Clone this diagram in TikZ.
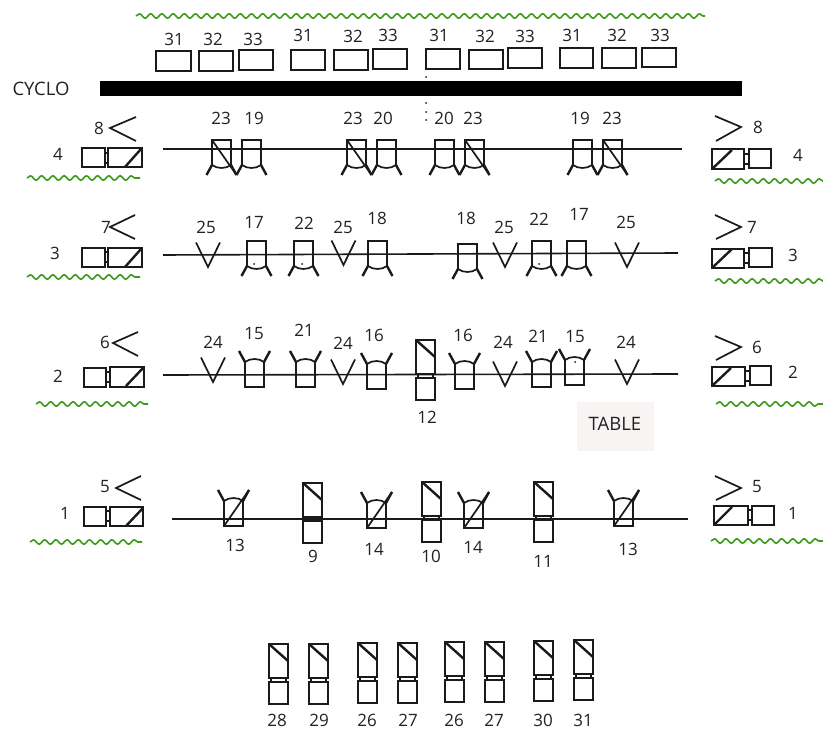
\documentclass[tikz,border=0pt]{standalone}
\usepackage{fontspec}
\setmainfont{Open Sans}
\usetikzlibrary{decorations.pathmorphing}
\definecolor{ink}{HTML}{1A1A1A}
\definecolor{txtc}{HTML}{222222}
\definecolor{wavec}{HTML}{3C9A1C}
\definecolor{tablebg}{HTML}{F8F4F4}
\newcounter{labn}
\tikzset{
  txt/.style={text=txtc,font=\fontsize{17}{19}\selectfont,inner sep=0pt,outer sep=0pt},
  capstxt/.style={text=txtc,font=\fontsize{18.5}{20}\selectfont,inner sep=0pt,outer sep=0pt},
  sym/.style={draw=ink,line width=1.7pt,line join=miter},
  rail/.style={draw=ink,line width=1.6pt},
  legs/.style={draw=ink,line width=2.4pt},
  wave/.style={draw=wavec,line width=1.6pt,decorate,decoration={snake,segment length=11.2pt,amplitude=2.2pt}},
}
\newcommand{\lab}[3]{\stepcounter{labn}\node[txt] (lab\arabic{labn}) at (#1,#2) {#3};}
\newcommand{\capslab}[3]{\stepcounter{labn}\node[capstxt] (lab\arabic{labn}) at (#1,#2) {#3};}
% cup opening down; x, top y
\newcommand{\cupdown}[2]{%
  \draw[sym] (#1,#2+25) -- (#1,#2) -- (#1+19,#2) -- (#1+19,#2+25);
  \draw[sym] (#1,#2+25) .. controls (#1+5,#2+29) and (#1+14,#2+29) .. (#1+19,#2+25);
  \draw[legs] (#1,#2+25) -- (#1-5.5,#2+35);
  \draw[legs] (#1+19,#2+25) -- (#1+24.5,#2+35);
}
\newcommand{\downslash}[2]{\cupdown{#1}{#2}\draw[sym] (#1,#2) -- (#1+24.5,#2+35);}
% cup opening up; x, bottom y
\newcommand{\cupup}[2]{%
  \draw[sym] (#1,#2-25) -- (#1,#2) -- (#1+19,#2) -- (#1+19,#2-25);
  \draw[sym] (#1,#2-25) .. controls (#1+5,#2-29) and (#1+14,#2-29) .. (#1+19,#2-25);
  \draw[legs] (#1,#2-25) -- (#1-6,#2-36);
  \draw[legs] (#1+19,#2-25) -- (#1+25,#2-36);
}
\newcommand{\upslash}[2]{\cupup{#1}{#2}\draw[sym] (#1,#2) -- (#1+25,#2-36);}
\newcommand{\vmark}[2]{\draw[sym] (#1-12,#2-24.5) -- (#1,#2) -- (#1+12,#2-24.5);}
\newcommand{\dumb}[2]{%
  \draw[sym] (#1,#2) rectangle (#1+19,#2+34);
  \draw[sym] (#1+2,#2+34) -- (#1+2,#2+38) (#1+17,#2+34) -- (#1+17,#2+38);
  \draw[sym] (#1,#2+38) rectangle (#1+19,#2+60);
  \draw[legs] (#1,#2) -- (#1+19,#2+17);
}
\newcommand{\tbox}[4]{\draw[sym] (#1,#2) rectangle (#3,#4);}
\newcommand{\neck}[3]{\draw[sym,line width=1.2pt] (#1,#3-5) -- (#2,#3-5) (#1,#3+5) -- (#2,#3+5);}
\newcommand{\dotm}[2]{\fill[ink] (#1,#2) circle (1pt);}
\begin{document}
\begin{tikzpicture}[x=1pt,y=-1pt]
\useasboundingbox (0,0) rectangle (823,730);
\fill[white] (0,0) rectangle (823,730);
% waves
\draw[wave] (136,16) -- (705,16);
\draw[wave] (27,178) -- (140,178);
\draw[wave] (27,277) -- (140,277);
\draw[wave] (36,404) -- (148,404);
\draw[wave] (30,542) -- (142,542);
\draw[wave] (715,181) -- (823,181);
\draw[wave] (715,281) -- (823,281);
\draw[wave] (716,404) -- (823,404);
\draw[wave] (711,541) -- (823,541);
% top boxes
\tbox{156}{51}{191}{71}\tbox{199}{51}{233}{71}\tbox{239}{50}{273}{70}
\tbox{291}{50}{325}{70}\tbox{334}{50}{368}{70}\tbox{373}{49}{407}{69}
\tbox{426}{49}{460}{69}\tbox{469}{50}{503}{69}\tbox{508}{48}{542}{68}
\tbox{560}{48}{593}{68}\tbox{602}{48}{636}{68}\tbox{642}{48}{676}{67}
\lab{174}{39}{31}\lab{213}{39}{32}\lab{253}{39}{33}
\lab{303}{35}{31}\lab{353}{36}{32}\lab{388}{35}{33}
\lab{439}{35}{31}\lab{485}{36}{32}\lab{525}{36}{33}
\lab{572}{35}{31}\lab{617}{35}{32}\lab{660}{35}{33}
% bar
\fill[black] (100,81) rectangle (742,96);
\capslab{41}{89}{CYCLO}
\dotm{426}{77}\dotm{426}{103}\dotm{426}{112}\dotm{426}{120}
% rails
\draw[rail] (163,149) -- (682,149);
\draw[rail] (163,255) -- (678,253);
\draw[rail] (163,375) -- (678,374);
\draw[rail] (172,519) -- (688,519);
% row 4 left
\tbox{82}{148}{105}{167}\tbox{108}{148}{142}{167}\draw[legs] (125,167) -- (141,149);
\neck{105}{108}{158}
\lab{58}{154}{4}\lab{99}{128}{8}
\draw[sym] (136,117) -- (110,128) -- (136,141);
% row 4 right
\tbox{712}{149}{744}{169}\tbox{749}{149}{771}{168}\draw[legs] (712,169) -- (732,150);
\neck{744}{749}{159}
\lab{798}{155}{4}\lab{758}{127}{8}
\draw[sym] (715,116) -- (741,127) -- (716,141);
% row 4 symbols
\downslash{212}{140}
\cupdown{242}{140}
\downslash{347}{140}
\cupdown{377}{140}
\cupdown{435}{140}
\downslash{465}{140}
\cupdown{573}{140}
\downslash{603}{140}
\lab{221}{118}{23}\lab{254}{118}{19}\lab{353}{118}{23}\lab{383}{118}{20}
\lab{444}{118}{20}\lab{473}{118}{23}\lab{580}{118}{19}\lab{612}{118}{23}
% row 3 left
\tbox{82}{248}{105}{267}\tbox{108}{248}{142}{267}\draw[legs] (125,267) -- (141,249);
\neck{105}{108}{257}
\lab{55}{253}{3}\lab{106}{227}{7}
\draw[sym] (135,215) -- (110,227) -- (135,239);
% row 3 right
\tbox{712}{249}{744}{268}\tbox{749}{248}{772}{267}\draw[legs] (712,268) -- (732,249);
\neck{744}{749}{258}
\lab{793}{255}{3}\lab{752}{227}{7}
\draw[sym] (715,215) -- (741,227) -- (716,239);
% row 3 symbols
\vmark{208}{267}
\cupdown{247}{241}\dotm{254}{264}
\cupdown{294}{241}\dotm{302}{264}
\vmark{343.5}{265}
\cupdown{368}{241}
\cupdown{458}{244}
\vmark{505}{267}
\cupdown{532}{241}\dotm{539}{264}
\cupdown{567}{241}
\vmark{627}{267}
\lab{206}{227}{25}\lab{254}{222}{17}\lab{304}{223}{22}\lab{343}{227}{25}\lab{377}{218}{18}
\lab{466}{218}{18}\lab{504}{227}{25}\lab{539}{219}{22}\lab{579}{214}{17}\lab{626}{222}{25}
% row 2 left
\tbox{84}{368}{106}{387}\tbox{110}{367}{144}{387}\draw[legs] (126,386) -- (143,368);
\neck{106}{110}{377}
\lab{58}{376}{2}\lab{105}{342}{6}
\draw[sym] (138,332) -- (113,343) -- (138,356);
% row 2 right
\tbox{712}{367}{745}{386}\tbox{750}{366}{771}{385}\draw[legs] (712,386) -- (731,368);
\neck{745}{750}{376}
\lab{793}{372}{2}\lab{757}{347}{6}
\draw[sym] (715,336) -- (741,347) -- (716,360);
% row 2 symbols
\vmark{213}{382}
\cupup{245}{387}
\cupup{296}{387}
\vmark{343}{384}
\cupup{367}{389}
\dumb{416}{340}
\cupup{455}{389}
\vmark{505}{386}
\cupup{532}{387}
\cupup{565}{385}\dotm{575}{362}
\vmark{627}{384}
\lab{213}{342}{24}\lab{254}{334}{15}\lab{304}{330}{21}\lab{343}{343}{24}\lab{374}{335}{16}
\lab{427}{417}{12}
\lab{463}{335}{16}\lab{503}{342}{24}\lab{538}{336}{21}\lab{575}{337}{15}\lab{626}{342}{24}
% table
\fill[tablebg] (577,402) rectangle (654,451);
\capslab{615}{424}{TABLE}
% row 1 left
\tbox{84}{507}{106}{526}\tbox{110}{507}{143}{526}\draw[legs] (126,526) -- (143,508);
\neck{106}{110}{516}
\lab{65}{513}{1}\lab{105}{487}{5}
\draw[sym] (141,476) -- (116,488) -- (141,500);
% row 1 right
\tbox{714}{506}{748}{525}\tbox{752}{506}{774}{525}\draw[legs] (714,525) -- (732,507);
\neck{748}{752}{515}
\lab{793}{513}{1}\lab{757}{487}{5}
\draw[sym] (715,476) -- (741,488) -- (716,500);
% row 1 symbols
\upslash{224}{526}
\dumb{303}{483}
\upslash{367}{528}
\dumb{422}{482}
\upslash{464}{528}
\dumb{534}{482}
\upslash{614}{526}
\lab{235}{545}{13}\lab{313}{556}{9}\lab{374}{549}{14}\lab{431}{556}{10}
\lab{473}{547}{14}\lab{543}{561}{11}\lab{628}{549}{13}
% bottom row
\dumb{269}{644}\dumb{309}{644}\dumb{358}{643}\dumb{398}{643}
\dumb{445}{642}\dumb{485}{642}\dumb{534}{641}\dumb{574}{640}
\lab{277}{720}{28}\lab{319}{720}{29}\lab{367}{720}{26}\lab{408}{720}{27}
\lab{454}{720}{26}\lab{494}{720}{27}\lab{543}{720}{30}\lab{583}{720}{31}
\end{tikzpicture}
\end{document}
